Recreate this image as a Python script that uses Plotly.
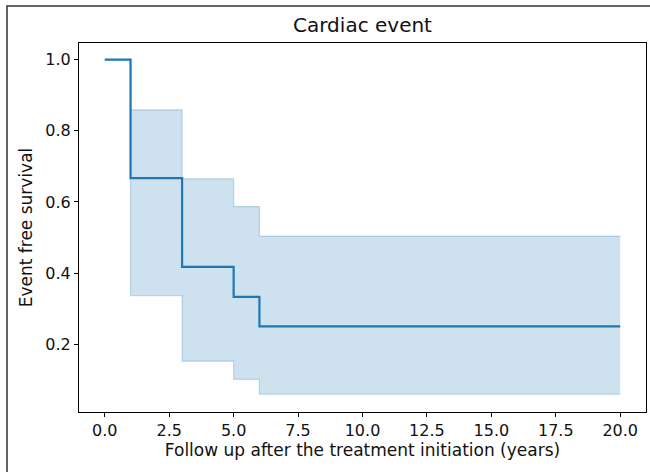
import plotly.graph_objects as go

# Data
times = [0, 1, 3, 5, 6, 20]
survival = [1.0, 0.667, 0.417, 0.333, 0.25, 0.25]
ci_upper = [1.0, 0.859, 0.665, 0.587, 0.504, 0.504]
ci_lower = [1.0, 0.336, 0.152, 0.101, 0.059, 0.059]
x_ticks = [0, 2.5, 5, 7.5, 10, 12.5, 15, 17.5, 20]
y_ticks = [0.2, 0.4, 0.6, 0.8, 1.0]

C0 = "#1f77b4"
band = "rgba(31,119,180,0.22)"
band_edge = "rgba(31,119,180,0.25)"

fig = go.Figure()
fig.add_trace(go.Scatter(x=times, y=ci_lower, mode="lines", line=dict(shape="hv", color=band_edge, width=1.2),
                         showlegend=False, hoverinfo="skip"))
fig.add_trace(go.Scatter(x=times, y=ci_upper, mode="lines", line=dict(shape="hv", color=band_edge, width=1.2),
                         fill="tonexty", fillcolor=band, showlegend=False, hoverinfo="skip"))
fig.add_trace(go.Scatter(x=times, y=survival, mode="lines", line=dict(shape="hv", color=C0, width=2.2),
                         showlegend=False))

font_family = "DejaVu Sans"
txt = "#111111"
fig.update_layout(
    width=650, height=472,
    margin=dict(l=79, r=4, t=43, b=60, autoexpand=False),
    paper_bgcolor="white", plot_bgcolor="white",
    font=dict(family=font_family, size=16, color=txt),
    title=dict(text="Cardiac event", x=(79 + 646) / 2 / 650, xanchor="center", y=1 - 25 / 472, yanchor="middle",
               font=dict(size=20, family=font_family, color=txt)),
    xaxis=dict(range=[-1, 21], tickvals=x_ticks, ticktext=[f"{v:.1f}" for v in x_ticks], automargin=False,
               showgrid=False, zeroline=False, showline=True, linecolor="black", linewidth=1.2, mirror=True,
               ticks="outside", ticklen=4, tickcolor="black", tickfont=dict(size=16, color=txt),
               title=dict(text="Follow up after the treatment initiation (years)", font=dict(size=17, color=txt), standoff=4)),
    yaxis=dict(range=[0.009, 1.047], tickvals=y_ticks, ticktext=[f"{v:.1f}" for v in y_ticks], automargin=False,
               showgrid=False, zeroline=False, showline=True, linecolor="black", linewidth=1.2, mirror=True,
               ticks="outside", ticklen=4, tickcolor="black", tickfont=dict(size=16, color=txt),
               title=dict(text="Event free survival", font=dict(size=17, color=txt), standoff=8)),
    shapes=[dict(type="rect", xref="paper", yref="paper",
                 x0=(7 - 79) / 567, x1=(700 - 79) / 567,
                 y0=(412 - 520) / 369, y1=(412 - 6) / 369,
                 line=dict(color="#333333", width=1.5), fillcolor="rgba(0,0,0,0)", layer="below")],
)

fig.write_html("out.html", config={"displayModeBar": False},
               post_script="document.body.style.margin='0px';")
